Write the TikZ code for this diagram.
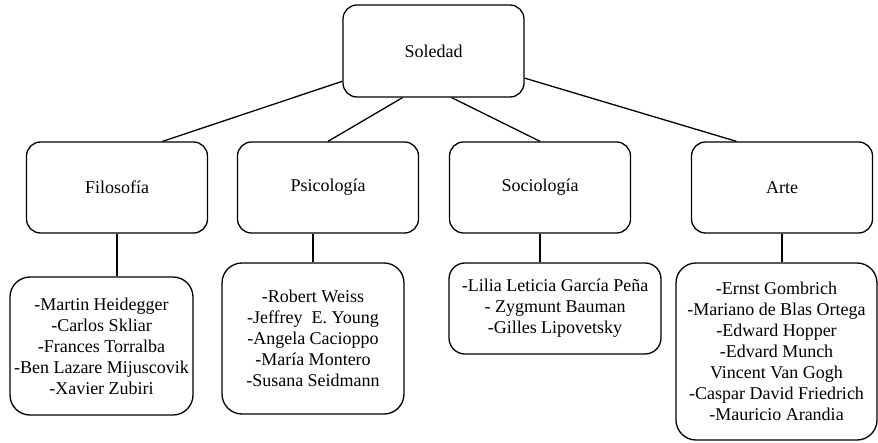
\documentclass[tikz,border=0pt]{standalone}
\usepackage{fontspec}
\setmainfont{Liberation Serif}
\usetikzlibrary{calc}

\begin{document}
\begin{tikzpicture}[x=1pt,y=-1pt,
	caja/.style={draw, line width=1.3pt, rounded corners=14pt, align=center, inner sep=0pt, font=\fontsize{18}{21}\selectfont},
	lista/.style={caja, rounded corners=20pt},
	linea/.style={line width=1.3pt}]
	\useasboundingbox (0,0) rectangle (878,443);
	
	\def\w{181pt} % width of the boxes
	\def\h{91pt} % height of the boxes
	
	% top box
	\node[caja, minimum width=\w, minimum height=92pt] (S) at (433.5,51) {Soledad};
	
	% second row
	\node[caja, minimum width=\w, minimum height=\h] (F) at (117,187.5) {Filosofía};
	\node[caja, minimum width=\w, minimum height=\h] (P) at (328,187.5) {Psicología};
	\node[caja, minimum width=\w, minimum height=\h] (So) at (540,187.5) {Sociología};
	\node[caja, minimum width=\w, minimum height=\h] (A) at (782,187.5) {Arte};
	
	% lists of authors
	\node[lista, minimum width=183pt, minimum height=138pt] (LF) at (101.5,346) {-Martin Heidegger\\-Carlos Skliar\\-Frances Torralba\\-Ben Lazare Mijuscovik\\-Xavier Zubiri};
	\node[lista, minimum width=182pt, minimum height=151pt] (LP) at (313,338.5) {-Robert Weiss\\-Jeffrey~ E. Young\\-Angela Cacioppo\\-María Montero\\-Susana Seidmann};
	\node[lista, rounded corners=16pt, minimum width=212pt, minimum height=91pt] (LS) at (555,308.5) {-Lilia Leticia García Peña\\- Zygmunt Bauman\\-Gilles Lipovetsky};
	\node[lista, minimum width=201pt, minimum height=177pt] (LA) at (776.5,351.5) {-Ernst Gombrich\\-Mariano de Blas Ortega\\-Edward Hopper\\-Edvard Munch\\Vincent Van Gogh\\-Caspar David Friedrich\\-Mauricio Arandia};
	
	% from the top box to the second row
	\draw[linea] (S) -- ($(F.north west)!0.75!(F.north east)$);
	\draw[linea] ($(S.south west)!0.33!(S.south east)$) -- (P.north);
	\draw[linea] ($(S.south west)!0.6!(S.south east)$) -- (So.north);
	\draw[linea] (S) -- ($(A.north west)!0.25!(A.north east)$);
	
	% down to the lists
	\draw[linea] (F.south) -- (F.south |- LF.north);
	\draw[linea] (P.south -| LP.north) -- (LP.north);
	\draw[linea] (So.south) -- (So.south |- LS.north);
	\draw[linea] (A.south) -- (A.south |- LA.north);
\end{tikzpicture}
\end{document}
